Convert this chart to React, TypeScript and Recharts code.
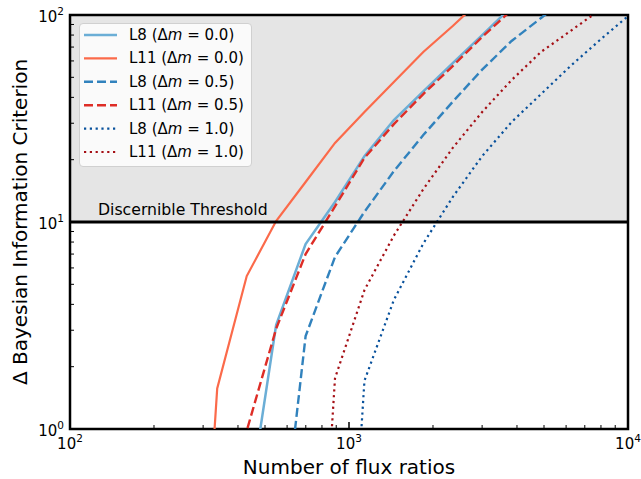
import { LineChart, Line, XAxis, YAxis, ReferenceArea, ReferenceLine, Legend } from "recharts"

// number of flux ratios (shared grid for every curve)
const fluxRatios = [264, 337, 430, 548, 699, 891, 1136, 1448, 1846, 2354, 3001, 3826, 4878, 6220, 7930, 10110]

// Delta BIC per model / magnitude offset
const l8dm00 = [null, 0.01, 0.37, 3.18, 7.83, 12.5, 20.8, 31.1, 42.8, 58.6, 80.0, 109.6, null, null, null, null]
const l11dm00 = [0.01, 1.57, 5.48, 10.1, 15.6, 24.1, 34.0, 47.5, 66.3, 88.5, 120, null, null, null, null, null]
const l8dm05 = [null, null, 0.01, 0.156, 2.81, 6.78, 11.2, 17.6, 26.3, 38.1, 54.5, 74.9, 96.7, 125, null, null]
const l11dm05 = [null, 0.01, 0.98, 3.05, 7.0, 11.9, 20.4, 29.7, 41.5, 56.7, 78.3, 105.7, null, null, null, null]
const l8dm10 = [null, null, null, null, null, 0.01, 1.71, 4.2, 7.87, 13.2, 20.8, 30.4, 41.5, 56.7, 75.7, 100]
const l11dm10 = [null, null, null, null, 0.01, 1.76, 4.69, 8.6, 14.4, 22.8, 34.0, 48.5, 66.3, 83.7, 105.7, null]

const xTicks = [100, 200, 300, 400, 500, 600, 700, 800, 900, 1000, 2000, 3000, 4000, 5000, 6000, 7000, 8000, 9000, 10000]
const yTicks = [1, 2, 3, 4, 5, 6, 7, 8, 9, 10, 20, 30, 40, 50, 60, 70, 80, 90, 100]

const threshold = 10

const series = [
  { key: "l8dm00", model: "L8", dm: "0.0", color: "#6baed6", dash: undefined, width: 2.5 },
  { key: "l11dm00", model: "L11", dm: "0.0", color: "#fb6a4a", dash: undefined, width: 2.2 },
  { key: "l8dm05", model: "L8", dm: "0.5", color: "#3182bd", dash: "9 4", width: 2.4 },
  { key: "l11dm05", model: "L11", dm: "0.5", color: "#de2d26", dash: "9 4", width: 2.4 },
  { key: "l8dm10", model: "L8", dm: "1.0", color: "#08519c", dash: "2.2 3.6", width: 2.2 },
  { key: "l11dm10", model: "L11", dm: "1.0", color: "#a50f15", dash: "2.2 3.6", width: 2.2 },
]

const data = fluxRatios.map((n, i) => ({
  n,
  l8dm00: l8dm00[i],
  l11dm00: l11dm00[i],
  l8dm05: l8dm05[i],
  l11dm05: l11dm05[i],
  l8dm10: l8dm10[i],
  l11dm10: l11dm10[i],
}))

const FONT = "DejaVu Sans"

const isMajor = (v: number) => Math.abs(Math.log10(v) - Math.round(Math.log10(v))) < 1e-6

function XTick({ x, y, payload }: any) {
  const v = payload.value
  const major = isMajor(v)
  return (
    <g>
      <line x1={x} x2={x} y1={y} y2={y - (major ? 7 : 4)} stroke="#000" strokeWidth={major ? 1.5 : 1} />
      {major && (
        <text x={x} y={y + 20} textAnchor="middle" fontFamily={FONT} fontSize={15} fill="#000">
          10<tspan dy={-7} fontSize={10.5}>{Math.round(Math.log10(v))}</tspan>
        </text>
      )}
    </g>
  )
}

function YTick({ x, y, payload }: any) {
  const v = payload.value
  const major = isMajor(v)
  return (
    <g>
      <line x1={x} x2={x + (major ? 7 : 4)} y1={y} y2={y} stroke="#000" strokeWidth={major ? 1.5 : 1} />
      {major && (
        <text x={x - 6} y={y + 7} textAnchor="end" fontFamily={FONT} fontSize={15} fill="#000">
          10<tspan dy={-7} fontSize={10.5}>{Math.round(Math.log10(v))}</tspan>
        </text>
      )}
    </g>
  )
}

function ThresholdLabel({ viewBox }: any) {
  return (
    <text x={viewBox.x + 28} y={viewBox.y - 7} fontFamily={FONT} fontSize={15.7} fill="#000">
      Discernible Threshold
    </text>
  )
}

function LegendBox() {
  return (
    <div
      style={{
        width: 173,
        height: 144,
        boxSizing: "border-box",
        background: "#fafafa",
        border: "1px solid #d0d0d0",
        borderRadius: 4,
      }}
    >
      <svg width={171} height={142}>
        {series.map((s, i) => {
          const cy = 11 + i * 23.4
          return (
            <g key={s.key}>
              <line x1={4} x2={37} y1={cy} y2={cy} stroke={s.color} strokeWidth={s.width} strokeDasharray={s.dash} />
              <text x={49} y={cy + 5} fontFamily={FONT} fontSize={15} fill="#000">
                {s.model} (Δ<tspan fontStyle="italic">m</tspan> = {s.dm})
              </text>
            </g>
          )
        })}
      </svg>
    </div>
  )
}

export default function App() {
  return (
    <div style={{ position: "absolute", left: 0, top: 0 }}>
      <LineChart width={641} height={479} data={data} margin={{ top: 15, right: 13, bottom: 0, left: 0 }} style={{ fontFamily: FONT }}>
        <ReferenceArea y1={threshold} y2={100} fill="#e5e5e5" fillOpacity={1} stroke="none" />
        <XAxis
          dataKey="n"
          type="number"
          scale="log"
          domain={[100, 10000]}
          allowDataOverflow
          ticks={xTicks}
          interval={0}
          tick={<XTick />}
          tickLine={false}
          tickSize={0}
          tickMargin={0}
          axisLine={false}
          height={50}
          label={{ value: "Number of flux ratios", position: "insideBottom", offset: 5, fontSize: 20, fill: "#000", fontFamily: FONT }}
        />
        <YAxis
          type="number"
          scale="log"
          domain={[1, 100]}
          allowDataOverflow
          ticks={yTicks}
          interval={0}
          tick={<YTick />}
          tickLine={false}
          tickSize={0}
          tickMargin={0}
          axisLine={false}
          width={70}
          label={{ value: "Δ Bayesian Information Criterion", angle: -90, position: "insideLeft", offset: 20, fontSize: 20, fill: "#000", fontFamily: FONT, style: { textAnchor: "middle" } }}
        />
        {series.map((s) => (
          <Line
            key={s.key}
            dataKey={s.key}
            name={`${s.model} (Δm = ${s.dm})`}
            stroke={s.color}
            strokeWidth={s.width}
            strokeDasharray={s.dash}
            dot={false}
            activeDot={false}
            isAnimationActive={false}
          />
        ))}
        <ReferenceLine y={threshold} stroke="#000" strokeWidth={2.8} label={<ThresholdLabel />} />
        <ReferenceArea x1={100} x2={10000} y1={1} y2={100} fill="none" stroke="#000" strokeWidth={2.5} />
        <Legend
          layout="vertical"
          align="center"
          verticalAlign="middle"
          content={() => <LegendBox />}
          wrapperStyle={{ left: 79, top: 23, width: 173, height: 144 }}
        />
      </LineChart>
    </div>
  )
}
